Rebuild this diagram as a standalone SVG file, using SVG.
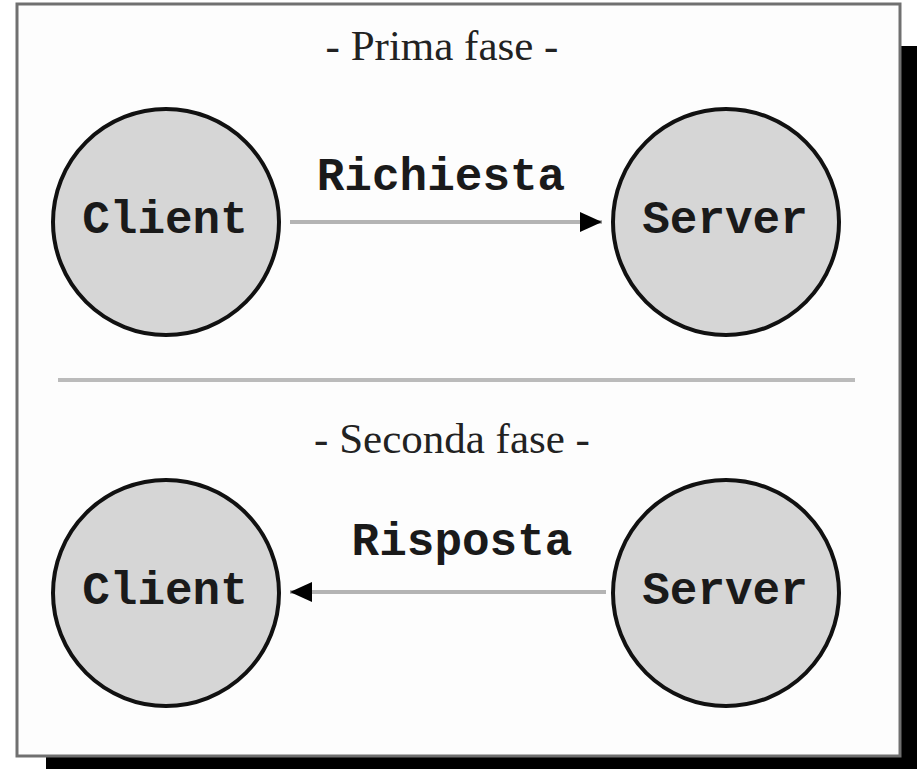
<svg xmlns="http://www.w3.org/2000/svg" width="917" height="769" viewBox="0 0 917 769">
<defs>
<style>
.node{fill:#d6d6d6;stroke:#111;stroke-width:4}
.lbl{font-family:"Liberation Mono","Courier New",monospace;font-weight:bold;font-size:46px;fill:#1a1a1a;text-anchor:middle}
.title{font-family:"Liberation Serif","Times New Roman",serif;font-size:43px;fill:#222;text-anchor:middle}
.conn{stroke:#b4b4b4;stroke-width:4;fill:none}
</style>
<marker id="ah" markerUnits="userSpaceOnUse" markerWidth="24" markerHeight="20" refX="22" refY="10" orient="auto">
<path d="M0,0 L22,10 L0,20 Z" fill="#000"/>
</marker>
</defs>
<rect x="0" y="0" width="917" height="769" fill="#fff"/>
<rect x="46" y="46" width="871" height="723" fill="#000"/>
<rect x="17" y="4" width="883" height="752" fill="#fdfdfd" stroke="#707070" stroke-width="3"/>
<text class="title" x="442" y="60">- Prima fase -</text>
<text class="title" x="452" y="453">- Seconda fase -</text>
<line x1="58" y1="380" x2="855" y2="380" stroke="#bbbbbb" stroke-width="4"/>
<g id="client1"><circle class="node" cx="166" cy="222" r="113"/><text class="lbl" x="165" y="233">Client</text></g>
<g id="server1"><circle class="node" cx="726" cy="222" r="113"/><text class="lbl" x="725" y="233">Server</text></g>
<g id="client2"><circle class="node" cx="166" cy="593" r="113"/><text class="lbl" x="165" y="604">Client</text></g>
<g id="server2"><circle class="node" cx="726" cy="593" r="113"/><text class="lbl" x="725" y="604">Server</text></g>
<g id="connectors">
<line class="conn" x1="290" y1="222" x2="602" y2="222" marker-end="url(#ah)"/>
<text class="lbl" x="441" y="190">Richiesta</text>
<line class="conn" x1="606" y1="592" x2="290" y2="592" marker-end="url(#ah)"/>
<text class="lbl" x="462" y="555">Risposta</text>
</g>
</svg>
